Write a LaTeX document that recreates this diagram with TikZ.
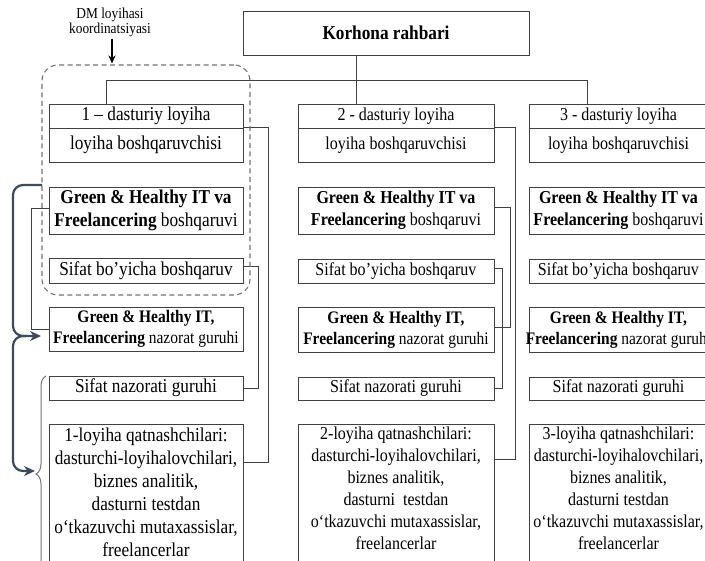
\documentclass[tikz,border=0pt]{standalone}
\usepackage{fontspec}
\setmainfont{Liberation Serif}[FakeStretch=0.88]
\usetikzlibrary{arrows.meta,decorations.pathreplacing,calc}
\definecolor{slate}{HTML}{3D4A5C}
\definecolor{ln}{HTML}{404040}
\newcommand\fA{\fontsize{19.6}{23}\selectfont}
\newcommand\fB{\fontsize{18.2}{22}\selectfont}
\newcommand\fC{\fontsize{15.2}{15}\selectfont}
\newcommand\fN{\fontsize{17.6}{21}\selectfont}
% name, x1, y1, x2, y2, font, text
\newcommand\mybox[7]{%
  \node[box, minimum width={(#4)-(#2)}, minimum height={(#5)-(#3)}] (#1) at ({((#2)+(#4))/2},{((#3)+(#5))/2}) {};
  \node[txt, font=#6] (#1t) at (#1.center) {#7};}
\begin{document}
\begin{tikzpicture}[x=1pt,y=-1pt,
  box/.style={draw=ln, line width=0.9pt, inner sep=0pt, rectangle},
  txt/.style={align=center, inner sep=0pt, text=black},
  conn/.style={draw=ln, line width=0.9pt},
  dmbox/.style={draw=black!55, line width=1.1pt, dash pattern=on 5pt off 3.5pt, rounded corners=16pt, inner sep=0pt},
  fat/.style={draw=slate, line width=2.2pt, rounded corners=10pt, -{Stealth[length=11pt,width=10pt]}},
  brc/.style={draw=black!55, line width=1pt, decorate, decoration={brace, amplitude=10pt, aspect=0.5}},
  ]
\useasboundingbox (0,0) rectangle (705,561);
\clip (0,0) rectangle (705,561);

% top
\node[box, minimum width=286pt, minimum height=44pt] (kr) at (386,33) {};
\node[txt, font=\fA] (krt) at (kr.center) {\textbf{Korhona rahbari}};

% column 1
\mybox{t1}{49}{104}{243}{128}{\fA}{1 – dasturiy loyiha}
\mybox{m1}{49}{128}{243}{162}{\fA}{loyiha boshqaruvchisi}
\mybox{g1}{49}{187}{243}{234}{\fA}{\textbf{Green \& Healthy IT va}\\\textbf{Freelancering} boshqaruvi}
\mybox{s1}{49}{258}{243}{283}{\fA}{Sifat bo’yicha boshqaruv}
\mybox{n1}{49}{307}{243}{351}{\fN}{\textbf{Green \& Healthy IT,}\\\textbf{Freelancering} nazorat guruhi}
\mybox{q1}{49}{376}{243}{400}{\fA}{Sifat nazorati guruhi}
\node[box, minimum width=194pt, minimum height=160pt] (p1) at (146,504) {};
\node[txt, font=\fA, anchor=north] (p1t) at (146,428) {1-loyiha qatnashchilari:\\dasturchi-loyihalovchilari,\\biznes analitik,\\dasturni testdan\\o‘tkazuvchi mutaxassislar,\\freelancerlar};

% column 2
\mybox{t2}{298}{104}{494}{128}{\fB}{2 - dasturiy loyiha}
\mybox{m2}{298}{128}{494}{162}{\fB}{loyiha boshqaruvchisi}
\mybox{g2}{298}{187}{494}{234}{\fB}{\textbf{Green \& Healthy IT va}\\\textbf{Freelancering} boshqaruvi}
\mybox{s2}{298}{259}{494}{283}{\fB}{Sifat bo’yicha boshqaruv}
\mybox{n2}{298}{307}{494}{352}{\fN}{\textbf{Green \& Healthy IT,}\\\textbf{Freelancering} nazorat guruhi}
\mybox{q2}{298}{377}{494}{400}{\fB}{Sifat nazorati guruhi}
\node[box, minimum width=196pt, minimum height=160pt] (p2) at (396,504) {};
\node[txt, font=\fB, anchor=north] (p2t) at (396,426.5) {2-loyiha qatnashchilari:\\dasturchi-loyihalovchilari,\\biznes analitik,\\dasturni\ \ testdan\\o‘tkazuvchi mutaxassislar,\\freelancerlar};

% column 3
\mybox{t3}{529}{104}{708}{128}{\fB}{3 - dasturiy loyiha}
\mybox{m3}{529}{128}{708}{162}{\fB}{loyiha boshqaruvchisi}
\mybox{g3}{529}{187}{708}{234}{\fB}{\textbf{Green \& Healthy IT va}\\\textbf{Freelancering} boshqaruvi}
\mybox{s3}{529}{259}{708}{283}{\fB}{Sifat bo’yicha boshqaruv}
\mybox{n3}{529}{307}{708}{352}{\fN}{\textbf{Green \& Healthy IT,}\\\textbf{Freelancering} nazorat guruhi}
\mybox{q3}{529}{377}{708}{400}{\fB}{Sifat nazorati guruhi}
\node[box, minimum width=179pt, minimum height=160pt] (p3) at (618.5,504) {};
\node[txt, font=\fB, anchor=north] (p3t) at (618.5,426.5) {3-loyiha qatnashchilari:\\dasturchi-loyihalovchilari,\\biznes analitik,\\dasturni testdan\\o‘tkazuvchi mutaxassislar,\\freelancerlar};

% tree lines
\coordinate (b1) at (106,80);
\coordinate (b3) at (587,80);
\coordinate (kv) at (356,80);
\draw[conn] (b1) -- (b3);
\draw[conn] (b1) -- (b1 |- t1.north);
\draw[conn] (b3) -- (b3 |- t3.north);
\draw[conn] (kv |- kr.south) -- (kv |- t2.north);

% column 1 connectors
\draw[conn] (m1.north east) -- ++(25,0) |- (p1.east |- 0,462);
\draw[conn] ($(s1.east)+(0,-4)$) -- ++(15,0) |- (q1.east);
\draw[conn] ($(g1.west)+(0,-2)$) -- ++(-17,0) |- (n1.west);

% column 2 connectors
\draw[conn] (m2.north east) -- ++(21,0) |- (p2.east |- 0,459);
\draw[conn] ($(g2.east)+(0,-3)$) -- ++(16,0) |- ($(n2.east)+(0,-2)$);
\draw[conn] ($(s2.east)+(0,-3)$) -- ++(8,0) |- (q2.east);

% DM coordination
\node[dmbox, minimum width=208pt, minimum height=230pt] (dm) at (146,180) {};
\node[txt, font=\fC] (dml) at (110,22) {DM loyihasi\\koordinatsiyasi};
\draw[line width=1.6pt, -{Stealth[length=8pt,width=7pt]}] ($(dml.south)+(2,2)$) -- ($(dml.south |- dm.north)+(2,-1)$);

% thick arrows and brace
\coordinate (fa) at (42,185);
\coordinate (fj) at (26,336);
\draw[fat] (fa) -- (13,185) -- (13,336) -- (41,336);
\draw[fat] (fj) -- (13,336) -- (13,471) -- (35,471);
\coordinate (br1) at (46,572);
\coordinate (br2) at (46,376);
\draw[brc] (br1) -- (br2);
\end{tikzpicture}
\end{document}
